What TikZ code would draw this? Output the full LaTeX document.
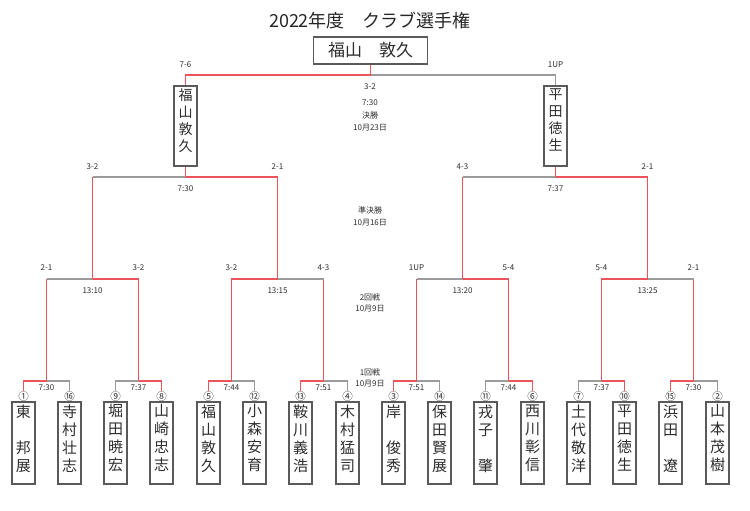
\documentclass[tikz,border=0pt]{standalone}
\usepackage{fontspec}
\newfontfamily\jp{Noto Sans CJK JP}
\definecolor{win}{RGB}{236,84,92}
\definecolor{lose}{RGB}{155,155,155}
\definecolor{bx}{RGB}{90,90,90}
\definecolor{tx}{RGB}{45,45,45}
\newcommand\plr[7]{%
  \node[pbox] (b#1) at (#2,443) {};
  \node[pname] (t#1) at ([yshift=-3pt]b#1.north) {#4\mbox{}\\#5\mbox{}\\#6\mbox{}\\#7\mbox{}};
  \node[pnum] (n#1) at (#2,396.5) {#3};
}
\begin{document}
\begin{tikzpicture}[x=1pt,y=-1pt,
  W/.style={draw=win,line width=1.3pt},
  L/.style={draw=lose,line width=1.3pt},
  pbox/.style={draw=bx,line width=1.3pt,minimum width=23pt,minimum height=82pt,inner sep=0pt},
  pname/.style={font=\jp\fontsize{15}{18}\selectfont,text=tx,align=center,inner sep=0pt,anchor=north},
  fbox/.style={draw=bx,line width=1.3pt,minimum width=23pt,minimum height=80pt,inner sep=0pt},
  fname/.style={font=\jp\fontsize{14}{17}\selectfont,text=tx,align=center,inner sep=0pt,anchor=north},
  cbox/.style={draw=bx,line width=1.3pt,minimum width=114pt,minimum height=27pt,inner sep=0pt,font=\jp\fontsize{17}{19}\selectfont,text=tx},
  pnum/.style={font=\jp\fontsize{10.5}{11}\selectfont,text=tx,inner sep=0pt},
  lab/.style={font=\jp\fontsize{8}{9}\selectfont,text=tx,inner sep=0pt},
]
\useasboundingbox (0,0) rectangle (750,511);

% title
\node[font=\jp\fontsize{18}{20}\selectfont,text=black!85,inner sep=0pt] (title) at (370,21) {2022年度　クラブ選手権};

% players
\plr{1}{23.5}{①}{東}{}{邦}{展}
\plr{2}{69.5}{⑯}{寺}{村}{壮}{志}
\plr{3}{115.5}{⑨}{堀}{田}{暁}{宏}
\plr{4}{161.5}{⑧}{山}{崎}{忠}{志}
\plr{5}{208.5}{⑤}{福}{山}{敦}{久}
\plr{6}{254.5}{⑫}{小}{森}{安}{育}
\plr{7}{300.5}{⑬}{鞍}{川}{義}{浩}
\plr{8}{347.5}{④}{木}{村}{猛}{司}
\plr{9}{393.5}{③}{岸}{}{俊}{秀}
\plr{10}{439.5}{⑭}{保}{田}{賢}{展}
\plr{11}{485.5}{⑪}{戎}{子}{}{肇}
\plr{12}{532.5}{⑥}{西}{川}{彰}{信}
\plr{13}{578.5}{⑦}{土}{代}{敬}{洋}
\plr{14}{624.5}{⑩}{平}{田}{徳}{生}
\plr{15}{670.5}{⑮}{浜}{田}{}{遼}
\plr{16}{717.5}{②}{山}{本}{茂}{樹}

% junctions
\coordinate (m1) at (46.5,381);
\coordinate (m2) at (138.5,381);
\coordinate (m3) at (231.5,381);
\coordinate (m4) at (323.5,381);
\coordinate (m5) at (416.5,381);
\coordinate (m6) at (508.5,381);
\coordinate (m7) at (601.5,381);
\coordinate (m8) at (693.5,381);
\coordinate (q1) at (92.5,279);
\coordinate (q2) at (277.5,279);
\coordinate (q3) at (462.5,279);
\coordinate (q4) at (647.5,279);
\coordinate (s1) at (185.5,177);
\coordinate (s2) at (555.5,177);
\coordinate (f) at (370.5,75);

% first round
\draw[W] (n1.north) |- (m1);  \draw[L] (n2.north) |- (m1);
\draw[L] (n3.north) |- (m2);  \draw[W] (n4.north) |- (m2);
\draw[W] (n5.north) |- (m3);  \draw[L] (n6.north) |- (m3);
\draw[W] (n7.north) |- (m4);  \draw[L] (n8.north) |- (m4);
\draw[W] (n9.north) |- (m5);  \draw[L] (n10.north) |- (m5);
\draw[L] (n11.north) |- (m6); \draw[W] (n12.north) |- (m6);
\draw[L] (n13.north) |- (m7); \draw[W] (n14.north) |- (m7);
\draw[W] (n15.north) |- (m8); \draw[L] (n16.north) |- (m8);

% second round
\draw[W] (m1) -- (m1|-q1); \draw[L] (m1|-q1) -- (q1);
\draw[W] (m2) |- (q1);
\draw[W] (m3) |- (q2);
\draw[W] (m4) -- (m4|-q2); \draw[L] (m4|-q2) -- (q2);
\draw[W] (m5) -- (m5|-q3); \draw[L] (m5|-q3) -- (q3);
\draw[W] (m6) |- (q3);
\draw[W] (m7) |- (q4);
\draw[W] (m8) -- (m8|-q4); \draw[L] (m8|-q4) -- (q4);

% semifinals
\draw[W] (q1) -- (q1|-s1); \draw[L] (q1|-s1) -- (s1);
\draw[W] (q2) |- (s1);
\draw[W] (q3) -- (q3|-s2); \draw[L] (q3|-s2) -- (s2);
\draw[W] (q4) |- (s2);

% finalists
\node[fbox] (F1) at (185.5,126) {};
\node[fname] (tF1) at ([yshift=-3pt]F1.north) {福\\山\\敦\\久};
\node[fbox] (F2) at (555.5,126) {};
\node[fname] (tF2) at ([yshift=-3pt]F2.north) {平\\田\\徳\\生};
\draw[W] (s1) -- (F1.south);
\draw[W] (s2) -- (F2.south);
\draw[W] (F1.north) |- (f);
\draw[L] (F2.north) |- (f);

% champion
\node[cbox] (C) at (370.5,50.5) {福山　敦久};
\draw[W] (f) -- (C.south);

% first round times
\node[lab] (tm1) at (46.5,388) {7:30};
\node[lab] (tm2) at (138.5,388) {7:37};
\node[lab] (tm3) at (231.5,388) {7:44};
\node[lab] (tm4) at (323.5,388) {7:51};
\node[lab] (tm5) at (416.5,388) {7:51};
\node[lab] (tm6) at (508.5,388) {7:44};
\node[lab] (tm7) at (601.5,388) {7:37};
\node[lab] (tm8) at (693.5,388) {7:30};
\node[lab] (r1a) at (370,372) {1回戦};
\node[lab] (r1b) at (370,383.5) {10月9日};

% second round scores and times
\node[lab] (sc1) at (46.5,268) {2-1};
\node[lab] (sc2) at (138.5,268) {3-2};
\node[lab] (sc3) at (231.5,268) {3-2};
\node[lab] (sc4) at (323.5,268) {4-3};
\node[lab] (sc5) at (416.5,268) {1UP};
\node[lab] (sc6) at (508.5,268) {5-4};
\node[lab] (sc7) at (601.5,268) {5-4};
\node[lab] (sc8) at (693.5,268) {2-1};
\node[lab] (tq1) at (92.5,291) {13:10};
\node[lab] (tq2) at (277.5,291) {13:15};
\node[lab] (tq3) at (462.5,291) {13:20};
\node[lab] (tq4) at (647.5,291) {13:25};
\node[lab] (r2a) at (370,297) {2回戦};
\node[lab] (r2b) at (370,309) {10月9日};

% semifinal scores and times
\node[lab] (ss1) at (92.5,167) {3-2};
\node[lab] (ss2) at (277.5,167) {2-1};
\node[lab] (ss3) at (462.5,167) {4-3};
\node[lab] (ss4) at (647.5,167) {2-1};
\node[lab] (ts1) at (185.5,189) {7:30};
\node[lab] (ts2) at (555.5,189) {7:37};
\node[lab] (r3a) at (370,210) {準決勝};
\node[lab] (r3b) at (370,223) {10月16日};

% final
\node[lab] (sf1) at (185.5,65) {7-6};
\node[lab] (sf2) at (555.5,65) {1UP};
\node[lab] (fsc) at (370,87) {3-2};
\node[lab] (ftm) at (370,103) {7:30};
\node[lab] (fa) at (370,115) {決勝};
\node[lab] (fb) at (370,128) {10月23日};
\end{tikzpicture}
\end{document}
